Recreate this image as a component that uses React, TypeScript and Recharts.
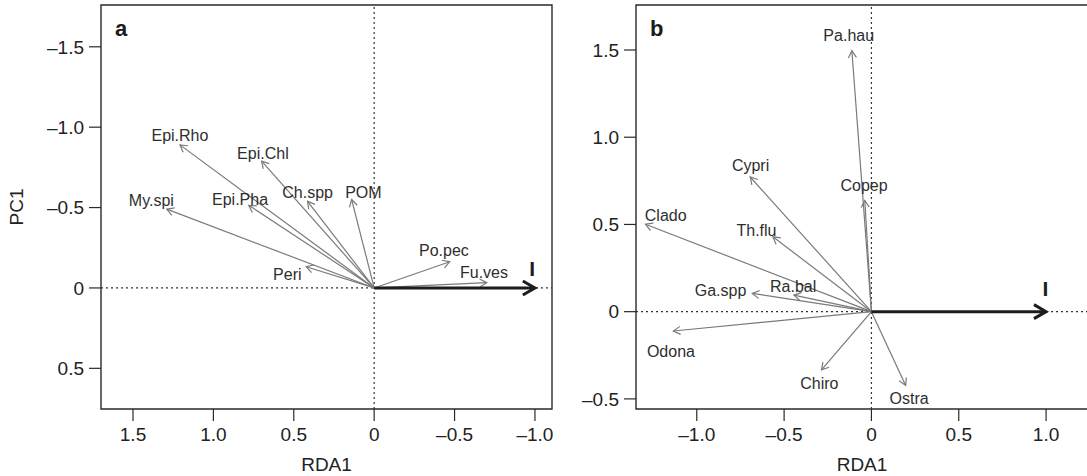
import React from 'react';
import { ScatterChart, XAxis, YAxis, Scatter, ReferenceLine, ReferenceArea } from 'recharts';

// ---------- Panel a ----------
const speciesA = ['Epi.Rho', 'Epi.Chl', 'My.spi', 'Epi.Pha', 'Ch.spp', 'POM', 'Peri', 'Po.pec', 'Fu.ves'];
const rdaA = [1.208, 0.7, 1.29, 0.78, 0.414, 0.14, 0.423, -0.47, -0.7];
const pcA = [-0.89, -0.789, -0.49, -0.514, -0.539, -0.55, -0.132, -0.163, -0.033];
const labelRdaA = [1.208, 0.692, 1.386, 0.834, 0.414, 0.067, 0.54, -0.434, -0.683];
const labelPcA = [-0.948, -0.835, -0.545, -0.55, -0.591, -0.591, -0.085, -0.231, -0.095];
const envNameA = ['I'];
const envRdaA = [-1.0];
const envPcA = [0];
const envLabelRdaA = [-0.983];
const envLabelPcA = [-0.122];
const xTicksA = [1.5, 1.0, 0.5, 0, -0.5, -1.0];
const yTicksA = [-1.5, -1.0, -0.5, 0, 0.5];
const xDomainA = [-1.106, 1.699];
const yDomainA = [-1.76, 0.753];

// ---------- Panel b ----------
const speciesB = ['Pa.hau', 'Cypri', 'Copep', 'Clado', 'Th.flu', 'Ga.spp', 'Ra.bal', 'Odona', 'Chiro', 'Ostra'];
const rdaB = [-0.112, -0.694, -0.038, -1.294, -0.564, -0.682, -0.444, -1.134, -0.286, 0.196];
const pcB = [1.496, 0.772, 0.638, 0.501, 0.429, 0.105, 0.095, -0.111, -0.334, -0.423];
const labelRdaB = [-0.13, -0.692, -0.042, -1.178, -0.658, -0.864, -0.448, -1.148, -0.298, 0.216];
const labelPcB = [1.582, 0.839, 0.724, 0.549, 0.467, 0.12, 0.147, -0.229, -0.414, -0.496];
const envNameB = ['I'];
const envRdaB = [1.0];
const envPcB = [0];
const envLabelRdaB = [0.996];
const envLabelPcB = [0.133];
const xTicksB = [-1.0, -0.5, 0, 0.5, 1.0];
const yTicksB = [-0.5, 0, 0.5, 1.0, 1.5];
const xDomainB = [-1.348, 1.24];
const yDomainB = [-0.558, 1.758];

const FONT = '"Liberation Sans", Arial, Helvetica, sans-serif';
const AXIS_COLOR = '#2a2a2a';
const ARROW_GREY = '#7a7a7a';

const fmt = (v: number) => (v === 0 ? '0' : (v < 0 ? '\u2013' : '') + Math.abs(v).toFixed(1));

const makeArrow = (color: string, width: number, head: number) => (props: any) => {
  const { x1, y1, x2, y2 } = props;
  if ([x1, y1, x2, y2].some((v) => v == null || isNaN(v))) return <g />;
  const ang = Math.atan2(y2 - y1, x2 - x1);
  const spread = Math.PI / 6;
  const hx1 = x2 - head * Math.cos(ang - spread);
  const hy1 = y2 - head * Math.sin(ang - spread);
  const hx2 = x2 - head * Math.cos(ang + spread);
  const hy2 = y2 - head * Math.sin(ang + spread);
  return (
    <g>
      <line x1={x1} y1={y1} x2={x2} y2={y2} stroke={color} strokeWidth={width} />
      <polyline
        points={`${hx1},${hy1} ${x2},${y2} ${hx2},${hy2}`}
        fill="none"
        stroke={color}
        strokeWidth={width}
        strokeLinejoin="miter"
      />
    </g>
  );
};

const speciesArrow = makeArrow(ARROW_GREY, 1.2, 8);
const envArrow = makeArrow('#1c1c1c', 3, 14);

const labelShape = (props: any) => {
  const { cx, cy, payload } = props;
  const env = payload.env;
  return (
    <text
      x={cx}
      y={cy}
      textAnchor="middle"
      dominantBaseline="central"
      fontFamily={FONT}
      fontSize={env ? 21 : 16}
      fontWeight={env ? 'bold' : 'normal'}
      fill={env ? '#1c1c1c' : '#2e2e2e'}
    >
      {payload.name}
    </text>
  );
};

const buildLabels = (
  names: string[], lx: number[], ly: number[],
  envNames: string[], elx: number[], ely: number[]
) => [
  ...names.map((n, i) => ({ name: n, x: lx[i], y: ly[i], env: false })),
  ...envNames.map((n, i) => ({ name: n, x: elx[i], y: ely[i], env: true })),
];

const labelsA = buildLabels(speciesA, labelRdaA, labelPcA, envNameA, envLabelRdaA, envLabelPcA);
const labelsB = buildLabels(speciesB, labelRdaB, labelPcB, envNameB, envLabelRdaB, envLabelPcB);

const tickStyle = { fontSize: 19, fill: '#222', fontFamily: FONT };

interface PanelProps {
  letter: string;
  left: number;
  width: number;
  yAxisWidth: number;
  marginRight: number;
  reversed: boolean;
  xDomain: number[];
  yDomain: number[];
  xTicks: number[];
  yTicks: number[];
  rda: number[];
  pc: number[];
  envRda: number[];
  envPc: number[];
  labels: any[];
  showYTitle: boolean;
}

const Panel = (p: PanelProps) => {
  const H = 476;
  const mTop = 5;
  const mBottom = 7;
  const xAxisH = 60;
  const plotLeft = p.yAxisWidth;
  const plotRight = p.width - p.marginRight;
  const plotBottom = H - mBottom - xAxisH;
  const cxPlot = (plotLeft + plotRight) / 2;
  const cyPlot = (mTop + plotBottom) / 2;
  return (
    <div style={{ position: 'absolute', left: p.left, top: 0 }}>
      <ScatterChart
        width={p.width}
        height={H}
        margin={{ top: mTop, right: p.marginRight, bottom: mBottom, left: 0 }}
      >
        <XAxis
          type="number"
          dataKey="x"
          domain={p.xDomain}
          allowDataOverflow
          reversed={p.reversed}
          ticks={p.xTicks}
          interval={0}
          tickFormatter={fmt}
          tickSize={12}
          tickMargin={7}
          axisLine={false}
          tickLine={{ stroke: AXIS_COLOR, strokeWidth: 1.2 }}
          tick={tickStyle}
          height={xAxisH}
        />
        <YAxis
          type="number"
          dataKey="y"
          domain={p.yDomain}
          allowDataOverflow
          reversed={p.reversed}
          ticks={p.yTicks}
          interval={0}
          tickFormatter={fmt}
          tickSize={12}
          tickMargin={5}
          axisLine={false}
          tickLine={{ stroke: AXIS_COLOR, strokeWidth: 1.2 }}
          tick={tickStyle}
          width={p.yAxisWidth}
        />
        <ReferenceArea
          x1={p.xDomain[0]}
          x2={p.xDomain[1]}
          y1={p.yDomain[0]}
          y2={p.yDomain[1]}
          fill="none"
          stroke={AXIS_COLOR}
          strokeWidth={1.4}
          ifOverflow="visible"
        />
        <ReferenceLine x={0} stroke="#333" strokeWidth={1.2} strokeDasharray="2 3" ifOverflow="visible" />
        <ReferenceLine y={0} stroke="#333" strokeWidth={1.2} strokeDasharray="2 3" ifOverflow="visible" />
        {p.rda.map((v, i) => (
          <ReferenceLine
            key={'s' + i}
            segment={[{ x: 0, y: 0 }, { x: v, y: p.pc[i] }]}
            ifOverflow="visible"
            shape={speciesArrow}
          />
        ))}
        {p.envRda.map((v, i) => (
          <ReferenceLine
            key={'e' + i}
            segment={[{ x: 0, y: 0 }, { x: v, y: p.envPc[i] }]}
            ifOverflow="visible"
            shape={envArrow}
          />
        ))}
        <Scatter data={p.labels} shape={labelShape} isAnimationActive={false} />
        <text
          x={plotLeft + 14}
          y={36}
          fontFamily={FONT}
          fontSize={22}
          fontWeight="bold"
          fill="#1c1c1c"
        >
          {p.letter}
        </text>
        <text
          x={cxPlot}
          y={471}
          textAnchor="middle"
          fontFamily={FONT}
          fontSize={19}
          fill="#222"
        >
          RDA1
        </text>
        {p.showYTitle && (
          <text
            x={23}
            y={cyPlot}
            textAnchor="middle"
            transform={`rotate(-90 23 ${cyPlot})`}
            fontFamily={FONT}
            fontSize={19}
            fill="#222"
          >
            PC1
          </text>
        )}
      </ScatterChart>
    </div>
  );
};

export default function App() {
  return (
    <div
      style={{
        position: 'absolute',
        left: 0,
        top: 0,
        width: 1087,
        height: 476,
        overflow: 'hidden',
        background: '#fff',
      }}
    >
      <Panel
        letter="a"
        left={0}
        width={560}
        yAxisWidth={101}
        marginRight={8}
        reversed={true}
        xDomain={xDomainA}
        yDomain={yDomainA}
        xTicks={xTicksA}
        yTicks={yTicksA}
        rda={rdaA}
        pc={pcA}
        envRda={envRdaA}
        envPc={envPcA}
        labels={labelsA}
        showYTitle={true}
      />
      <Panel
        letter="b"
        left={540}
        width={556}
        yAxisWidth={96}
        marginRight={8}
        reversed={false}
        xDomain={xDomainB}
        yDomain={yDomainB}
        xTicks={xTicksB}
        yTicks={yTicksB}
        rda={rdaB}
        pc={pcB}
        envRda={envRdaB}
        envPc={envPcB}
        labels={labelsB}
        showYTitle={false}
      />
    </div>
  );
}
